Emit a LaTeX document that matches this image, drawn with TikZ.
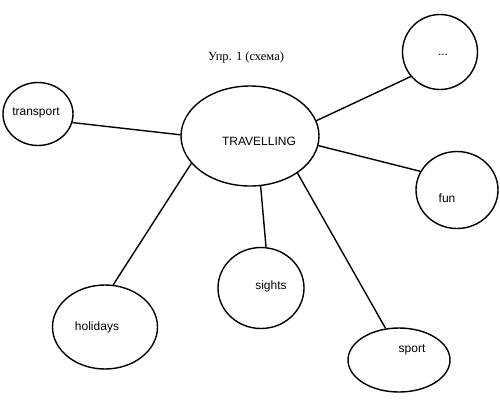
\documentclass[tikz,border=0pt]{standalone}
\usepackage{fontspec}
\setmainfont{Liberation Sans}
\newfontfamily\titlefont{Liberation Serif}
\usetikzlibrary{shapes.geometric}
\begin{document}
\begin{tikzpicture}[x=1pt,y=-1pt,
  bubble/.style={ellipse,draw,line width=1.4pt,inner sep=0pt,font=\fontsize{12}{14}\selectfont},
  link/.style={line width=1.4pt}]
\useasboundingbox (0,0) rectangle (500,400);
\node[font=\titlefont\fontsize{12.5}{14}\selectfont] (title) at (246,57) {Упр. 1 (схема)};
\node[bubble,minimum width=138pt,minimum height=100pt] (trav) at (250,136) {};
\node[font=\fontsize{12}{14}\selectfont] (travt) at (259,141) {TRAVELLING};
\node[bubble,minimum width=70pt,minimum height=63pt] (transport) at (38,114) {};
\node[font=\fontsize{12}{14}\selectfont] at (36,113) {transport};
\node[bubble,minimum width=75pt,minimum height=75pt] (dots) at (440,52) {};
\node[font=\fontsize{12}{14}\selectfont] at (443,55) {...};
\node[bubble,minimum width=82pt,minimum height=77pt] (fun) at (457,190) {};
\node[font=\fontsize{12}{14}\selectfont] at (447,198) {fun};
\node[bubble,minimum width=86pt,minimum height=81pt] (sights) at (261,288) {};
\node[font=\fontsize{12}{14}\selectfont] at (271,286) {sights};
\node[bubble,minimum width=105pt,minimum height=84pt] (holidays) at (105,327) {};
\node[font=\fontsize{12}{14}\selectfont] at (97,327) {holidays};
\node[bubble,minimum width=102pt,minimum height=64pt] (sport) at (399,360) {};
\node[font=\fontsize{12}{14}\selectfont] at (412,350) {sport};
\draw[link] (transport.-14) -- (trav.179);
\draw[link] (trav.13) -- (dots.220);
\draw[link] (trav.-8) -- (fun.153);
\draw[link] (trav.-78) -- (sights.83);
\draw[link] (trav.205) -- (holidays.79);
\draw[link] (trav.-38) -- (sport.113);
\end{tikzpicture}
\end{document}
